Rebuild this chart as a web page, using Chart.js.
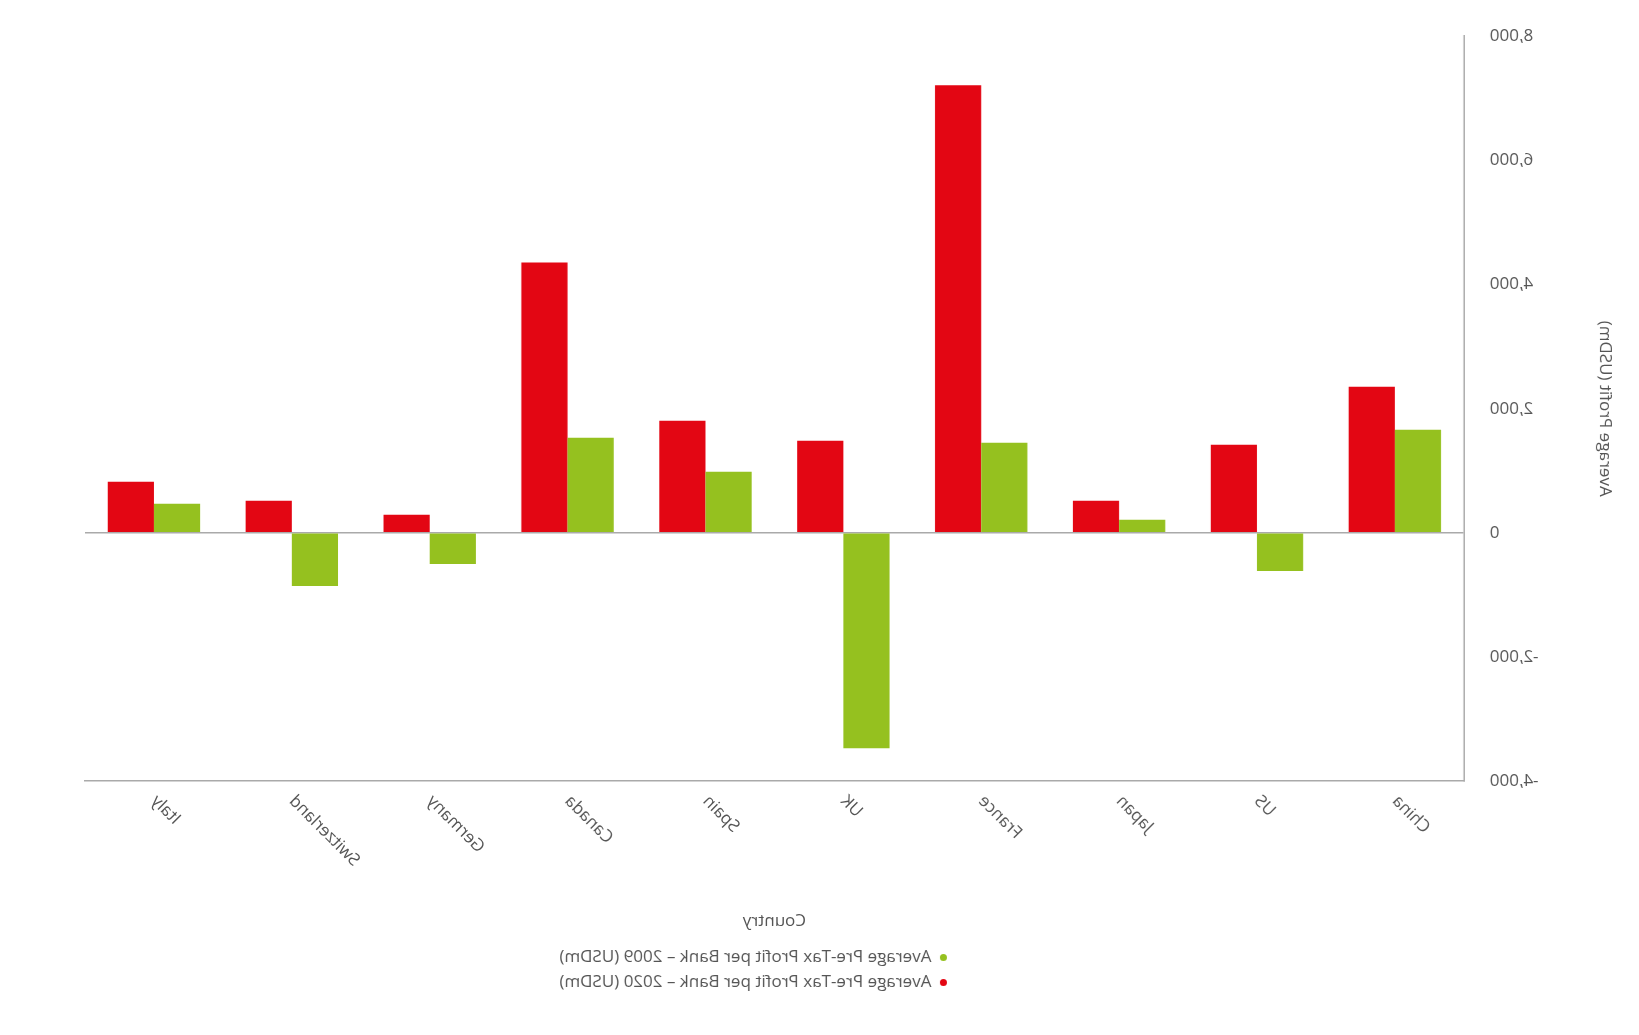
<!DOCTYPE html>
<html>
<head>
<meta charset="utf-8">
<script src="https://cdn.jsdelivr.net/npm/chart.js@4.4.0/dist/chart.umd.min.js"></script>
<style>
  html, body { margin: 0; padding: 0; background: #fff; }
  #wrap { width: 1639px; height: 1035px; transform: scaleX(-1); font-family: "Open Sans", sans-serif; color: #555; }
  #box { width: 1639px; height: 935px; position: relative; }
  #legend { padding-left: 133px; text-align: center; font-size: 17px; line-height: 25px; margin-top: 8px; }
  #legend span.dot { display: inline-block; width: 7px; height: 7px; border-radius: 50%; margin-right: 8px; vertical-align: middle; }
</style>
</head>
<body>
<div id="wrap">
  <div id="box"><canvas id="chart"></canvas></div>
  <div id="legend"></div>
</div>
<script>
// Chart is drawn normally, then the whole page is mirrored to match the reference
const countries = ["China", "US", "Japan", "France", "UK", "Spain", "Canada", "Germany", "Switzerland", "Italy"];
const profit2009 = [1661, -613, 210, 1452, -3468, 984, 1532, -500, -855, 468];
const profit2020 = [2355, 1420, 516, 7210, 1484, 1806, 4355, 290, 516, 823];
const seriesNames = ["Average Pre-Tax Profit per Bank – 2009 (USDm)", "Average Pre-Tax Profit per Bank – 2020 (USDm)"];
const seriesColors = ["#95c11f", "#e30613"];

const legend = document.getElementById("legend");
legend.innerHTML = seriesNames.map((n, i) =>
  `<div><span class="dot" style="background:${seriesColors[i]}"></span>${n}</div>`).join("");

new Chart(document.getElementById("chart"), {
  type: "bar",
  data: {
    labels: countries,
    datasets: [
      { label: seriesNames[0], data: profit2009, backgroundColor: seriesColors[0] },
      { label: seriesNames[1], data: profit2020, backgroundColor: seriesColors[1] }
    ]
  },
  options: {
    responsive: true,
    maintainAspectRatio: false,
    animation: false,
    layout: { padding: { top: 12, right: 85, left: 20 } },
    datasets: { bar: { categoryPercentage: 0.67, barPercentage: 1 } },
    plugins: { legend: { display: false }, tooltip: { enabled: false } },
    scales: {
      x: {
        grid: { display: false, drawTicks: false },
        border: { color: "#aaa", width: 1.5 },
        ticks: { color: "#555", font: { family: "Open Sans", size: 17 }, maxRotation: 45, minRotation: 45, padding: 10 },
        title: { display: true, text: "Country", color: "#555", font: { family: "Open Sans", size: 17 }, padding: { top: 30 } }
      },
      y: {
        min: -4000, max: 8000,
        grid: {
          drawTicks: false,
          color: ctx => ctx.tick.value === 0 ? "#aaa" : "transparent",
          lineWidth: 1.5
        },
        border: { color: "#aaa", width: 1.5 },
        ticks: {
          stepSize: 2000, padding: 26, color: "#555",
          font: { family: "Open Sans", size: 17 },
          callback: v => v.toLocaleString("en-US")
        },
        title: { display: true, text: "Average Profit (USDm)", color: "#555", font: { family: "Open Sans", size: 17 }, padding: { bottom: 30 } }
      }
    }
  }
});
</script>
</body>
</html>
